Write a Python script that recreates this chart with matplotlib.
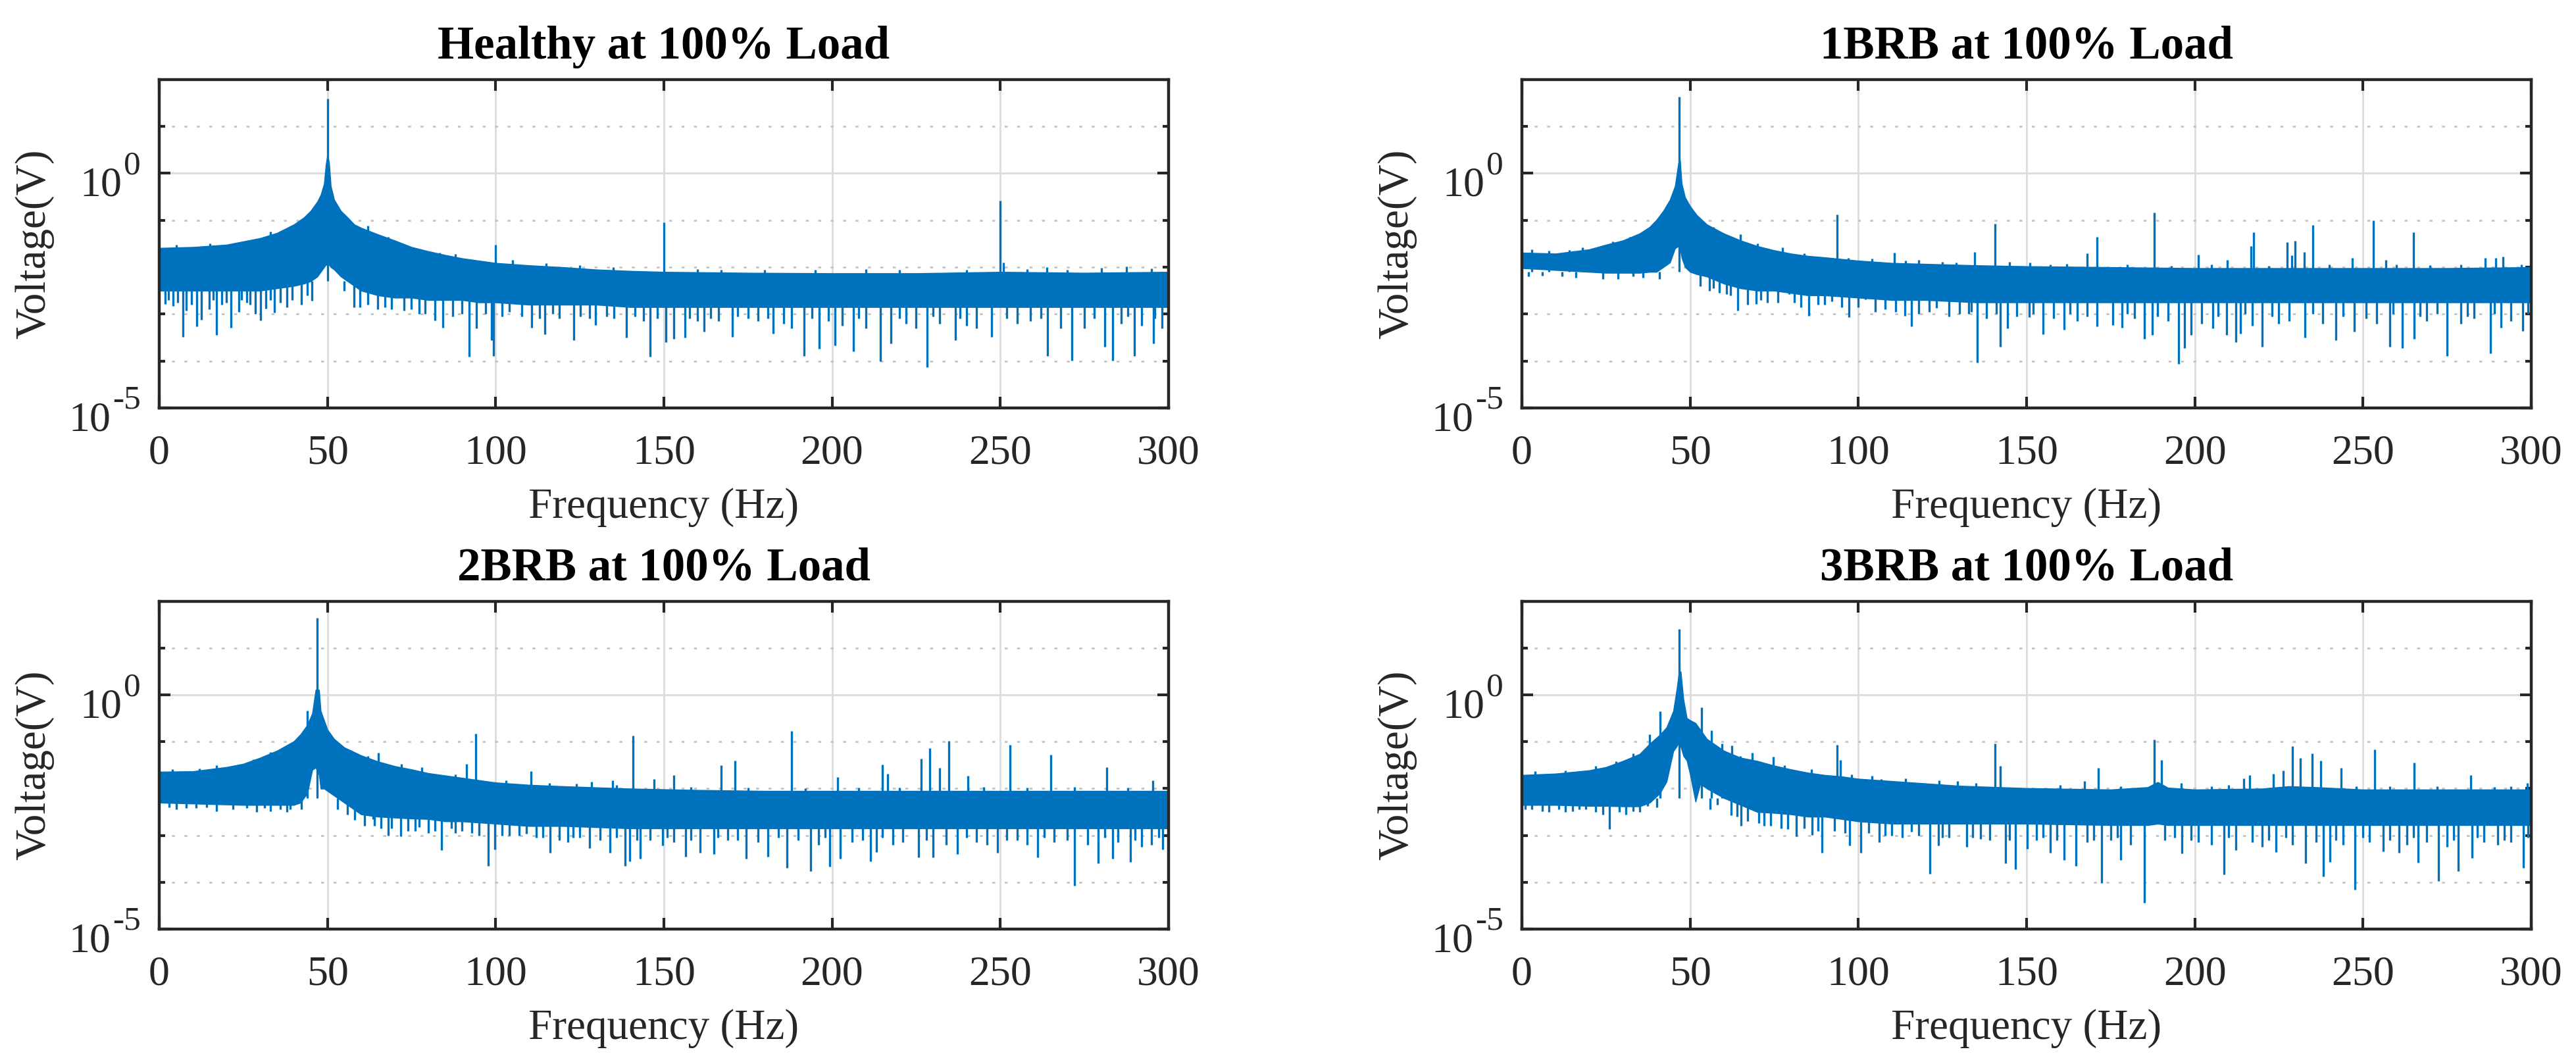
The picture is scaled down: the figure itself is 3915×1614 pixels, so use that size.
import numpy as np
import matplotlib.pyplot as plt
from matplotlib.ticker import FixedLocator, NullFormatter

plt.rcParams['font.family'] = ['Liberation Serif', 'DejaVu Serif']

BLUE = '#0072BD'

# All voltages below are log10(V).
# envelope rows: (frequency Hz, top of dense band, bottom of dense band)
healthy_env = [
    (0, -1.59, -2.5), (10, -1.57, -2.5), (20, -1.52, -2.5), (25, -1.45, -2.5),
    (30, -1.38, -2.5), (35, -1.27, -2.45), (40, -1.09, -2.4), (43, -0.94, -2.35),
    (45, -0.80, -2.3), (47, -0.60, -2.2), (48, -0.46, -2.1), (49, -0.22, -2.0),
    (49.5, 0.17, -1.95), (50, 0.40, -1.95), (50.5, 0.22, -1.95), (51, -0.27, -2.0),
    (52, -0.56, -2.05), (54, -0.80, -2.2), (56, -0.94, -2.3), (58, -1.09, -2.4),
    (60, -1.16, -2.5), (65, -1.30, -2.6), (70, -1.43, -2.65), (75, -1.57, -2.65),
    (80, -1.66, -2.7), (85, -1.74, -2.7), (90, -1.81, -2.7), (95, -1.86, -2.75),
    (100, -1.91, -2.75), (110, -1.96, -2.8), (120, -2.00, -2.8), (130, -2.05, -2.8),
    (140, -2.08, -2.85), (150, -2.10, -2.85), (175, -2.12, -2.85), (200, -2.13, -2.85),
    (225, -2.13, -2.85), (250, -2.10, -2.85), (275, -2.12, -2.85), (300, -2.10, -2.85),
]
healthy_peaks = [
    (50, 1.59), (100, -1.52), (150, -1.04), (250, -0.58), (251, -1.90), (300, -1.91),
    (83.4, -1.69), (105, -1.85), (167.1, -2.05), (263.9, -2.0), (287.5, -1.98),
    (5, -1.52), (15, -1.5), (33, -1.24), (62, -1.12), (68, -1.36), (88, -1.72),
    (115, -1.91), (125, -1.96), (135, -2.0), (160, -2.04), (180, -2.05), (195, -2.06),
    (210, -2.04), (220, -2.06), (240, -2.05), (258, -2.04), (270, -2.05), (280, -2.02),
    (295, -2.03),
]
healthy_dips = [
    (7.0, -3.48), (11.1, -3.26), (12.6, -3.12), (17.1, -3.45), (21.3, -3.29),
    (28.6, -3.0), (30.2, -3.14), (34.2, -2.97), (45.4, -2.71), (57.9, -2.85),
    (65.0, -2.9), (77.2, -3.0), (81.9, -3.14), (84.3, -3.29), (92.1, -3.91),
    (94.3, -3.31), (98.8, -3.55), (99.3, -3.89), (110.8, -3.29), (114.6, -3.43),
    (123.3, -3.55), (129.6, -3.24), (138.9, -3.50), (145.9, -3.91), (150.7, -3.60),
    (152.9, -3.53), (156.2, -3.5), (162.0, -3.38), (170.3, -3.48), (182.5, -3.41),
    (191.7, -3.89), (196.1, -3.74), (200.9, -3.67), (206.3, -3.79), (214.4, -4.01),
    (217.5, -3.62), (228.3, -4.13), (236.7, -3.55), (247.4, -3.48), (264.0, -3.89),
    (271.3, -3.99), (281.0, -3.70), (283.4, -3.99), (289.8, -3.89), (295.5, -3.62),
    (1.7, -2.78), (4.2, -2.83), (8.0, -2.92), (14.8, -2.9), (18.6, -2.8),
    (23.6, -2.95), (26.0, -2.75), (31.7, -2.88), (37.9, -2.85), (42.3, -2.8),
    (59.7, -2.85), (69.0, -2.9), (72.8, -2.92), (79.0, -3.0), (87.2, -3.05),
    (104.0, -2.95), (107.7, -3.05), (119.0, -3.1), (125.2, -3.05), (135.2, -3.1),
    (141.4, -3.05), (157.6, -3.1), (166.3, -3.15), (175.0, -3.1), (185.7, -3.2),
    (160, -3.15), (178, -3.15), (188, -3.3), (203, -3.25), (210, -3.3),
    (222, -3.2), (225, -3.3), (232, -3.2), (240, -3.25), (243, -3.3),
    (255, -3.2), (259, -3.15), (268, -3.3), (275, -3.3), (286, -3.2),
    (292, -3.25), (298, -3.3),
    (2.8, -2.7), (5.5, -2.75), (9.5, -2.8), (16, -2.7), (20, -2.75), (24.5, -2.7),
    (27, -2.8), (33, -2.7), (36, -2.75), (39.5, -2.7), (44, -2.6), (55, -2.5),
    (62, -2.8), (67, -2.85), (75, -2.9), (90, -3.0), (97, -3.0), (102, -3.05),
    (113, -3.1), (117, -3.0), (128, -3.1), (133, -3.05), (144, -3.15), (148, -3.1),
    (164, -3.1), (172, -3.05), (181, -3.1), (194, -3.1), (199, -3.15), (208, -3.1),
    (220, -3.1), (230, -3.05), (238, -3.1), (252, -3.1), (262, -3.1), (278, -3.1),
    (288, -3.05), (296, -3.1),
]

brb1_env = [
    (0, -1.69, -2.02), (10, -1.71, -2.06), (20, -1.62, -2.1), (25, -1.52, -2.12),
    (30, -1.43, -2.12), (35, -1.28, -2.12), (38, -1.14, -2.1), (40, -0.99, -2.1),
    (42, -0.80, -2.0), (44, -0.56, -1.9), (45.5, -0.27, -1.6), (46.5, 0.22, -1.55),
    (47, 0.27, -1.6), (47.5, -0.22, -1.8), (48.5, -0.51, -2.0), (50, -0.70, -2.1),
    (52, -0.89, -2.15), (55, -1.09, -2.2), (60, -1.28, -2.35), (65, -1.43, -2.45),
    (70, -1.55, -2.5), (75, -1.64, -2.5), (80, -1.71, -2.55), (85, -1.76, -2.6),
    (90, -1.79, -2.6), (100, -1.86, -2.65), (110, -1.91, -2.7), (120, -1.93, -2.7),
    (135, -1.96, -2.75), (150, -1.98, -2.75), (175, -2.0, -2.75), (200, -2.02, -2.75),
    (225, -2.02, -2.75), (250, -2.02, -2.75), (275, -2.02, -2.75), (300, -2.0, -2.75),
]
brb1_peaks = [
    (46.75, 1.63), (93.7, -0.88), (110.7, -1.69), (134.5, -1.68), (140.7, -1.08),
    (168.1, -1.71), (171.0, -1.36), (187.9, -0.83), (201.1, -1.73), (209.7, -1.84),
    (216.7, -1.55), (217.5, -1.25), (227.5, -1.46), (228.8, -1.75), (229.9, -1.44),
    (232.6, -1.68), (235.0, -1.10), (246.8, -1.80), (253.1, -1.00), (256.8, -1.85),
    (265.1, -1.25), (286.4, -1.80), (289.4, -1.80), (291.7, -1.78),
    (65.0, -1.30), (77.5, -1.58), (118, -1.85), (125, -1.88), (145, -1.88), (151, -1.9),
    (3, -1.62), (8, -1.65), (14, -1.64), (18, -1.58), (27, -1.45), (32, -1.35),
    (57, -1.15), (70, -1.5), (84, -1.7), (97, -1.8), (104, -1.82), (114, -1.86),
    (129, -1.9), (157, -1.95), (162, -1.93), (180, -1.95), (193, -1.97), (205, -1.95),
    (222, -1.97), (240, -1.95), (260, -1.95), (270, -1.96), (279, -1.95), (297, -1.95),
]
brb1_dips = [
    (28.6, -2.25), (40.9, -2.25), (55.7, -2.51), (58.6, -2.54), (60.8, -2.58),
    (64.2, -2.92), (69.7, -2.78), (79.4, -2.58), (85.3, -3.04), (92.2, -2.73),
    (97.3, -3.07), (102.0, -2.68), (113.9, -3.04), (115.7, -3.26), (123.2, -2.87),
    (132.8, -3.0), (135.4, -4.03), (142.2, -3.70), (144.3, -3.31), (150.8, -3.07),
    (155.0, -3.43), (161.2, -3.33), (171.0, -3.26), (175.7, -3.24), (178.4, -3.29),
    (185.0, -3.53), (187.4, -3.45), (195.2, -4.06), (197.0, -3.72), (198.9, -3.45),
    (205.4, -3.31), (209.5, -3.45), (212.2, -3.60), (213.6, -3.41), (220.1, -3.70),
    (232.8, -3.5), (242.0, -3.55), (247.5, -3.38), (257.9, -3.70), (261.6, -3.72),
    (265.3, -3.53), (275.0, -3.89), (287.8, -3.84), (291.0, -3.29), (297.5, -3.36),
    (67, -2.8), (73, -2.75), (83, -2.85), (88, -2.8), (105, -2.95), (108, -2.9),
    (118, -3.0), (127, -3.05), (130, -3.0), (138, -3.1), (147, -3.05), (158, -3.1),
    (165, -3.15), (182, -3.1), (192, -3.15), (202, -3.2), (217, -3.25), (225, -3.2),
    (228, -3.15), (238, -3.2), (251, -3.1), (254, -3.2), (269, -3.15), (279, -3.2),
    (283, -3.1), (294, -3.15),
    (2, -2.2), (6, -2.18), (12, -2.2), (16, -2.22), (24, -2.25), (33, -2.2),
    (36, -2.22), (53, -2.4), (57, -2.45), (62, -2.6), (71, -2.7), (76, -2.75),
    (81, -2.75), (90, -2.8), (95, -2.85), (100, -2.85), (111, -2.95), (121, -2.95),
    (133.5, -2.95), (141, -3.0), (152, -3.0), (163, -3.0), (168, -3.05), (180, -3.0),
    (189, -3.05), (207, -3.05), (215, -3.0), (223, -3.05), (235, -3.0), (244, -3.05),
    (259, -3.0), (267, -3.05), (272, -3.0), (281, -3.05), (289, -3.0), (299, -3.0),
]

brb2_env = [
    (0, -1.64, -2.3), (10, -1.63, -2.32), (20, -1.54, -2.34), (25, -1.47, -2.35),
    (30, -1.34, -2.35), (35, -1.19, -2.35), (40, -0.99, -2.35), (42, -0.84, -2.3),
    (44, -0.64, -2.1), (45.5, -0.39, -1.6), (46.5, 0.11, -1.55), (47.5, 0.11, -1.7),
    (48, -0.34, -2.0), (49, -0.54, -2.0), (50, -0.74, -2.05), (52, -0.94, -2.15),
    (55, -1.12, -2.3), (60, -1.29, -2.55), (65, -1.42, -2.6), (70, -1.52, -2.62),
    (75, -1.59, -2.64), (80, -1.67, -2.65), (85, -1.72, -2.7), (90, -1.77, -2.7),
    (100, -1.87, -2.75), (110, -1.92, -2.8), (120, -1.95, -2.8), (140, -2.0, -2.85),
    (160, -2.03, -2.85), (180, -2.05, -2.85), (200, -2.05, -2.85), (225, -2.05, -2.85),
    (250, -2.05, -2.85), (275, -2.05, -2.85), (300, -2.05, -2.85),
]
brb2_peaks = [
    (44.0, -0.34), (46.9, 1.65), (65.1, -1.24), (91.4, -1.48), (94.0, -0.82),
    (110.5, -1.63), (128.6, -1.85), (134.8, -1.82), (140.9, -0.87), (147.0, -1.80),
    (153.0, -1.71), (167.1, -1.50), (171.2, -1.40), (187.9, -0.77), (201.7, -1.75),
    (215.0, -1.49), (216.6, -1.68), (226.4, -1.36), (229.1, -1.13), (231.9, -1.56),
    (234.7, -0.98), (240.3, -1.73), (252.9, -1.06), (265.1, -1.27), (281.7, -1.54),
    (295.4, -1.83), (300, -1.93),
    (4, -1.58), (12, -1.57), (17, -1.5), (28, -1.38), (33, -1.22), (57, -1.18),
    (62, -1.3), (72, -1.48), (78, -1.55), (88, -1.7), (103, -1.82), (116, -1.88),
    (124, -1.9), (136, -1.93), (158, -1.97), (175, -1.98), (192, -2.0), (208, -1.98),
    (220, -1.98), (245, -1.97), (258, -1.98), (272, -1.97), (288, -1.98),
]
brb2_dips = [
    (31.4, -2.42), (42.3, -2.44), (58.0, -2.67), (63.5, -2.65), (68.1, -3.0),
    (71.7, -3.02), (77.3, -2.82), (84.0, -3.32), (86.9, -2.85), (95.1, -3.0),
    (97.8, -3.65), (99.8, -3.30), (109.2, -2.97), (116.2, -3.37), (121.4, -3.15),
    (128.0, -3.27), (133.9, -3.37), (138.4, -3.65), (139.9, -3.55), (143.0, -3.50),
    (149.6, -3.21), (156.5, -3.45), (160.7, -3.37), (164.8, -3.40), (174.4, -3.50),
    (181.0, -3.45), (186.6, -3.70), (193.6, -3.77), (199.3, -3.67), (202.5, -3.50),
    (211.4, -3.55), (213.2, -3.35), (225.7, -3.47), (230.1, -3.47), (237.2, -3.40),
    (249.1, -3.37), (261.1, -3.47), (272.0, -4.07), (279.2, -3.60), (283.4, -3.50),
    (288.7, -3.57), (298.3, -3.30),
    (3, -2.4), (8, -2.42), (14, -2.4), (22, -2.45), (26, -2.42), (36, -2.45),
    (39, -2.45), (61, -2.8), (66, -2.85), (74, -2.9), (80, -2.95), (90, -2.9),
    (104, -3.0), (112, -3.05), (119, -3.1), (125, -3.05), (131, -3.1), (146, -3.1),
    (153, -3.15), (169, -3.1), (178, -3.15), (190, -3.1), (196, -3.2), (206, -3.15),
    (218, -3.2), (221, -3.15), (234, -3.2), (243, -3.15), (246, -3.2), (255, -3.1),
    (258, -3.2), (266, -3.15), (276, -3.2), (285, -3.15), (292, -3.25), (295, -3.2),
    (5, -2.45), (11, -2.42), (17, -2.48), (29, -2.5), (33, -2.48), (38, -2.5),
    (53, -2.45), (56, -2.55), (64, -2.8), (69, -2.85), (76, -2.9), (82, -2.9),
    (88, -2.95), (93, -2.95), (102, -3.0), (107, -3.0), (114, -3.05), (123, -3.05),
    (136, -3.05), (142, -3.1), (151, -3.05), (158, -3.1), (166, -3.05), (172, -3.1),
    (184, -3.05), (198, -3.05), (209, -3.1), (215, -3.05), (228, -3.1), (240, -3.05),
    (252, -3.1), (263, -3.05), (270, -3.1), (281, -3.05), (290, -3.1), (297, -3.05),
]

brb3_env = [
    (0, -1.71, -2.35), (10, -1.68, -2.35), (20, -1.61, -2.37), (25, -1.54, -2.37),
    (30, -1.41, -2.38), (35, -1.26, -2.38), (38, -1.04, -2.3), (41, -0.85, -2.1),
    (43, -0.69, -1.85), (45, -0.34, -1.2), (46, 0.12, -1.1), (46.7, 0.5, -1.0),
    (47.2, 0.5, -1.1), (48, -0.09, -1.3), (49, -0.49, -1.4), (50, -0.54, -1.7),
    (51.6, -0.6, -2.28), (53, -0.74, -1.9), (55, -0.94, -2.0), (60, -1.19, -2.2),
    (65, -1.34, -2.35), (70, -1.41, -2.5), (75, -1.51, -2.52), (80, -1.59, -2.55),
    (85, -1.66, -2.6), (90, -1.71, -2.6), (95, -1.74, -2.65), (100, -1.79, -2.7),
    (110, -1.84, -2.75), (120, -1.89, -2.75), (130, -1.94, -2.75), (150, -1.99, -2.75),
    (175, -2.02, -2.78), (186, -1.97, -2.78), (189, -1.86, -2.75), (192, -1.98, -2.78),
    (200, -2.02, -2.78), (220, -2.0, -2.78), (228, -1.95, -2.78), (236, -1.97, -2.78),
    (250, -2.02, -2.78), (275, -2.02, -2.78), (300, -2.02, -2.78),
]
brb3_peaks = [
    (37.9, -0.84), (41.1, -0.35), (46.7, 1.41), (53.3, -0.26), (56.3, -0.76),
    (59.4, -1.04), (62.4, -1.08), (68.4, -1.23), (74.7, -1.32), (93.7, -1.06),
    (94.7, -1.39), (106.8, -1.79), (129.5, -1.84), (140.6, -1.04), (142.2, -1.51),
    (167.2, -1.84), (171.3, -1.56), (187.9, -0.96), (190.2, -1.39), (196.0, -1.88),
    (214.5, -1.78), (216.4, -1.71), (223.3, -1.68), (226.2, -1.61), (229.0, -1.10),
    (231.3, -1.35), (234.9, -1.25), (237.4, -1.41), (243.5, -1.56), (253.5, -1.17),
    (265.3, -1.45), (282.0, -1.71), (298.9, -1.88),
    (4, -1.63), (13, -1.62), (22, -1.52), (28, -1.42), (33, -1.25), (65, -1.3),
    (78, -1.5), (86, -1.58), (98, -1.7), (104, -1.72), (114, -1.78), (124, -1.82),
    (135, -1.88), (160, -1.93), (178, -1.95), (205, -1.95), (210, -1.93), (248, -1.95),
    (258, -1.95), (272, -1.95), (289, -1.96), (294, -1.95),
]
brb3_dips = [
    (26, -2.87), (33, -2.49), (37.3, -2.37), (62.2, -2.57), (65.1, -2.80),
    (70.4, -2.74), (79, -2.87), (81.6, -3.02), (86.3, -2.99), (89.2, -3.37),
    (97.4, -3.22), (100.7, -3.37), (106.2, -3.14), (115.7, -2.92), (121.2, -3.82),
    (123.9, -3.22), (132.3, -3.24), (136.4, -3.07), (143.8, -3.59), (146.6, -3.72),
    (150.2, -3.29), (157, -3.37), (161.2, -3.52), (164.7, -3.65), (172.4, -4.02),
    (178, -3.52), (185, -4.44), (196.2, -3.38), (208.7, -3.84), (212.2, -3.32),
    (224.1, -3.35), (233, -3.60), (238.3, -3.88), (240.1, -3.57), (247.6, -4.16),
    (256, -3.34), (260.8, -3.37), (266.4, -3.58), (272.5, -3.97), (278.4, -3.76),
    (282.4, -3.48), (297.6, -3.70),
    (3, -2.45), (8, -2.5), (15, -2.48), (19, -2.45), (29, -2.5), (31, -2.55),
    (56, -2.45), (67, -2.7), (74, -2.8), (84, -2.85), (93, -2.9), (103, -2.95),
    (110, -3.0), (118, -3.0), (127, -3.05), (139, -3.1), (153, -3.1), (168, -3.15),
    (175, -3.1), (181, -3.2), (191, -3.1), (201, -3.15), (205, -3.2), (217, -3.15),
    (220, -3.25), (229, -3.2), (236, -3.15), (244, -3.2), (252, -3.15), (263, -3.2),
    (269, -3.15), (275, -3.25), (286, -3.15), (290, -3.2), (294, -3.15),
    (1, -2.45), (6, -2.48), (11, -2.45), (13, -2.5), (17, -2.45), (22, -2.5),
    (24, -2.55), (35, -2.5), (40, -2.4), (58, -2.35), (64, -2.6), (72, -2.8),
    (77, -2.85), (88, -2.9), (96, -2.95), (108, -3.0), (113, -3.05), (125, -3.05),
    (134, -3.05), (145, -3.1), (155, -3.05), (159, -3.1), (170, -3.1), (177, -3.05),
    (194, -3.05), (199, -3.1), (210, -3.05), (222, -3.1), (227, -3.05), (242, -3.1),
    (250, -3.05), (258, -3.1), (265, -3.05), (277, -3.1), (284, -3.05), (292, -3.1),
    (299, -3.05),
]

titles = ['Healthy at 100% Load', '1BRB at 100% Load',
          '2BRB at 100% Load', '3BRB at 100% Load']
ytick_vals = [1e0, 1e-5]
ytick_exps = ['0', '-5']
# level inside each band where the spikes are anchored
band_mid = [-2.3, -2.1, -2.2, -2.2]

panels = [
    (healthy_env, healthy_peaks, healthy_dips),
    (brb1_env, brb1_peaks, brb1_dips),
    (brb2_env, brb2_peaks, brb2_dips),
    (brb3_env, brb3_peaks, brb3_dips),
]

positions = [
    [0.0618, 0.6159, 0.3918, 0.3092],
    [0.5908, 0.6159, 0.3918, 0.3092],
    [0.0618, 0.1252, 0.3918, 0.3086],
    [0.5908, 0.1252, 0.3918, 0.3086],
]

fig = plt.figure(figsize=(39.15, 16.14), dpi=100)

for pos, title, (env, peaks, dips), mid in zip(positions, titles, panels, band_mid):
    ax = fig.add_axes(pos)
    ax.set_yscale('log')

    f_env, up, lo = (np.array(c) for c in zip(*env))
    ax.fill_between(f_env, 10.0 ** lo, 10.0 ** up, color=BLUE, lw=1.0, zorder=2)

    pf, pv = (np.array(c) for c in zip(*peaks))
    ax.vlines(pf, 10.0 ** mid, 10.0 ** pv, color=BLUE, lw=2.4, zorder=2)

    df, dv = (np.array(c) for c in zip(*dips))
    ax.vlines(df, 10.0 ** dv, 10.0 ** mid, color=BLUE, lw=2.4, zorder=2)

    ax.set_xlim(0, 300)
    ax.set_ylim(1e-5, 1e2)
    ax.set_xticks(np.arange(0, 301, 50))
    ax.yaxis.set_major_locator(FixedLocator(ytick_vals))
    ax.yaxis.set_minor_locator(FixedLocator([1e-4, 1e-3, 1e-2, 1e-1, 1e1]))
    ax.yaxis.set_major_formatter(NullFormatter())
    ax.yaxis.set_minor_formatter(NullFormatter())

    # MATLAB-style 10^n labels with a large superscript
    for val, ex in zip(ytick_vals, ytick_exps):
        t_exp = ax.annotate(ex, xy=(0, val), xycoords=('axes fraction', 'data'),
                            xytext=(-20, -0.7), textcoords='offset points',
                            ha='right', va='baseline', fontsize=37, color='#262626')
        ax.annotate('10', xy=(0, 0), xycoords=t_exp, xytext=(-2.5, -16),
                    textcoords='offset points', ha='right', va='baseline',
                    fontsize=46, color='#262626')

    ax.set_axisbelow(True)
    ax.grid(True, which='major', color='#dcdcdc', lw=2.0)
    ax.grid(True, which='minor', axis='y', color='#c4c4c4', lw=2.0,
            linestyle=(0, (1.6, 5.2)))

    ax.tick_params(which='both', direction='in', top=True, right=True,
                   color='#262626', width=3.0)
    ax.tick_params(which='major', length=12, labelsize=46, pad=29,
                   labelcolor='#262626')
    ax.tick_params(which='minor', length=6.5)
    for sp in ax.spines.values():
        sp.set_color('#262626')
        sp.set_linewidth(3.2)

    ax.set_title(title, fontsize=51, fontweight='bold', pad=23)
    ax.set_xlabel('Frequency (Hz)', fontsize=47, labelpad=17, color='#262626')
    ax.set_ylabel('Voltage(V)', fontsize=47, labelpad=86, color='#262626')

fig.savefig('out.png', dpi=100)
